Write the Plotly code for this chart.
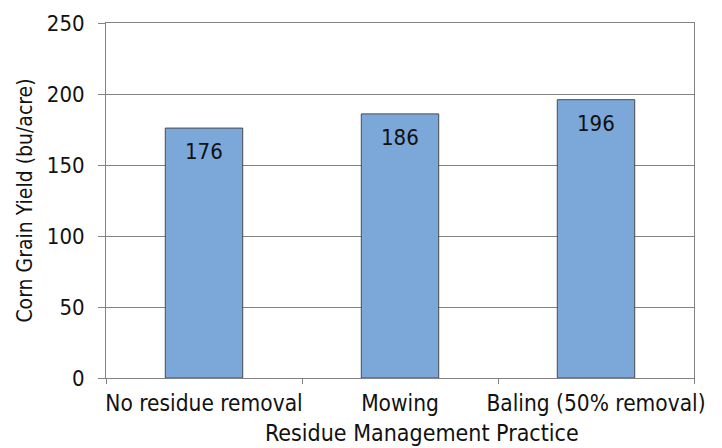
import plotly.graph_objects as go

practices = ["No residue removal", "Mowing", "Baling (50% removal)"]
yields = [176, 186, 196]
y_ticks = [0, 50, 100, 150, 200, 250]

font_family = "DejaVu Sans Condensed, DejaVu Sans"
line_grey = "#828282"

fig = go.Figure(
    go.Bar(
        x=practices,
        y=yields,
        marker=dict(color="#7BA7D9", line=dict(color="#4A4A4A", width=1)),
        hoverinfo="x+y",
    )
)

# value labels sitting just inside the top of each bar
for p, v in zip(practices, yields):
    fig.add_annotation(
        x=p, y=v, text=str(v), showarrow=False,
        yanchor="top", yshift=-9,
        font=dict(family=font_family, size=22, color="#111111"),
    )

# x-axis title, kept clear of the bottom edge
fig.add_annotation(
    x=0.537, xref="paper", y=0, yref="paper",
    yanchor="bottom", yshift=-70,
    xanchor="center", showarrow=False,
    text="Residue Management Practice",
    font=dict(family=font_family, size=23, color="#111111"),
)

fig.update_layout(
    width=722, height=448,
    margin=dict(l=106, r=28, t=23, b=70),
    paper_bgcolor="white", plot_bgcolor="white",
    bargap=0.605,
    showlegend=False,
    font=dict(family=font_family, size=21, color="#111111"),
)

fig.update_xaxes(
    type="category",
    tickson="boundaries",
    ticks="outside", ticklen=5, tickcolor=line_grey,
    ticklabelstandoff=5,
    showline=True, linecolor=line_grey, linewidth=1, mirror=True,
    showgrid=False,
    tickangle=0,
    automargin=False,
    tickfont=dict(size=22.5),
)

fig.update_yaxes(
    range=[0, 250],
    tickvals=y_ticks,
    ticks="outside", ticklen=7, tickcolor=line_grey,
    ticklabelstandoff=9,
    showline=True, linecolor=line_grey, linewidth=1, mirror=True,
    showgrid=True, gridcolor=line_grey, gridwidth=1,
    zeroline=False,
    automargin=False,
    tickfont=dict(size=22),
    title=dict(text="Corn Grain Yield (bu/acre)", font=dict(size=21), standoff=8),
)

fig.write_html("out.html")
